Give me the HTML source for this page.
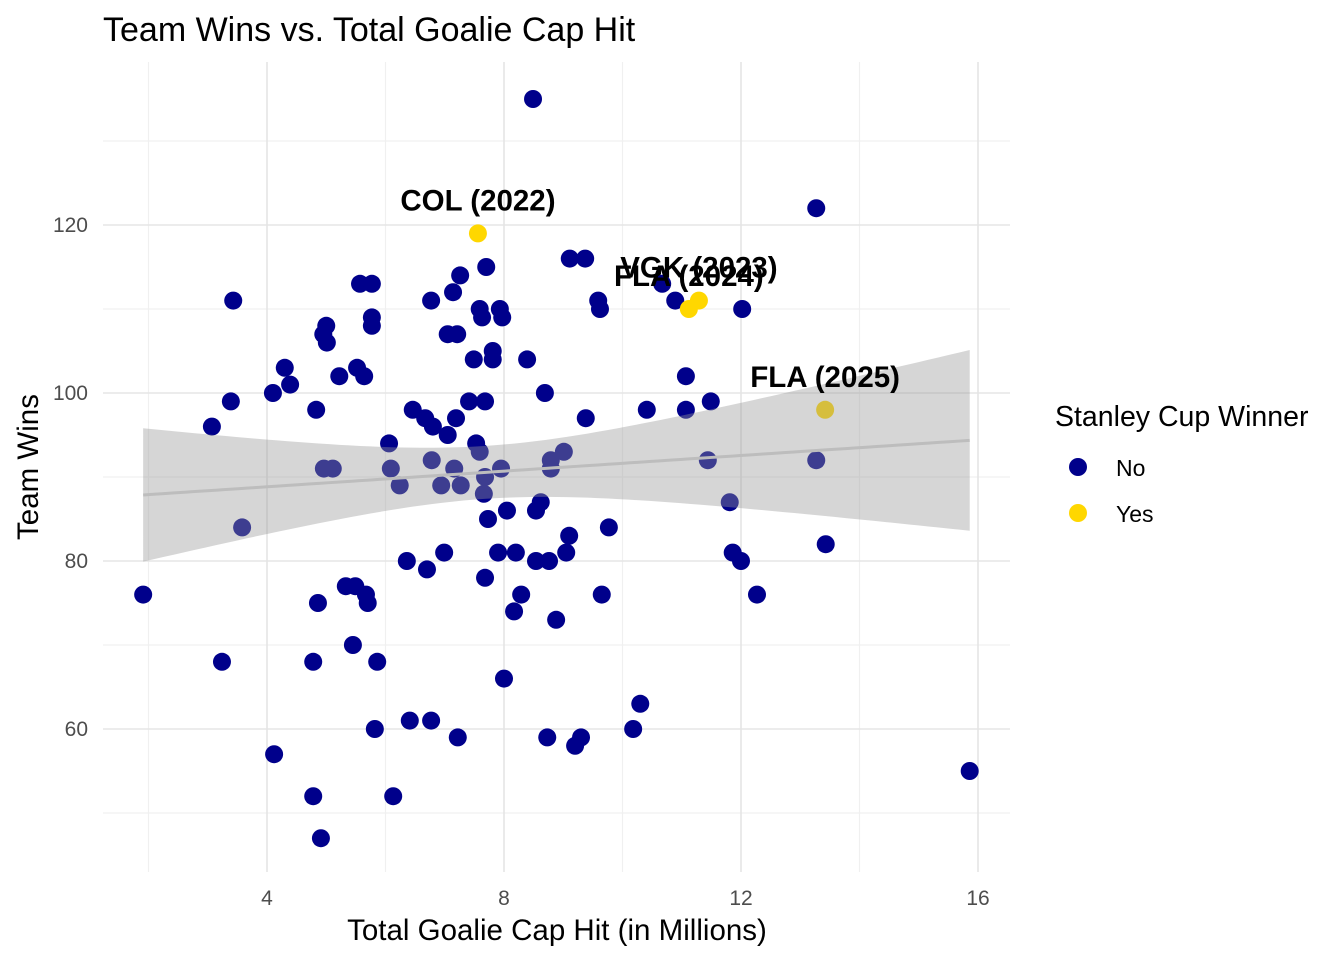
<!DOCTYPE html>
<html><head><meta charset="utf-8"><style>
html,body{margin:0;padding:0;background:#fff;}
svg{display:block;font-family:"Liberation Sans",Arial,sans-serif;}
</style></head><body>
<svg id="chart" width="1344" height="960" viewBox="0 0 1344 960">
<rect width="1344" height="960" fill="#fff"/>
<g id="grid"></g>
<g id="points"></g>
<g id="smooth"></g>
<g id="labels"></g>
<g id="ticks"></g>
<text x="103" y="41" font-size="34" fill="#000">Team Wins vs. Total Goalie Cap Hit</text>
<text x="557" y="940" font-size="29.5" text-anchor="middle" fill="#000">Total Goalie Cap Hit (in Millions)</text>
<text transform="translate(38,467) rotate(-90)" font-size="29.5" text-anchor="middle" fill="#000">Team Wins</text>
<g>
<text x="1055" y="426" font-size="28.5" fill="#000">Stanley Cup Winner</text>
<circle cx="1078" cy="467" r="9" fill="#00008B"/>
<text x="1116" y="476" font-size="23" fill="#000">No</text>
<circle cx="1078" cy="513" r="9" fill="#FFD700"/>
<text x="1116" y="522" font-size="23" fill="#000">Yes</text>
</g>
</svg>
<script>
const capHit=[1.91,8.49,13.27,7.56,3.43,9.11,9.37,7.70,7.26,5.57,5.77,6.77,7.14,7.59,7.93,7.97,7.63,9.59,9.62,10.89,10.67,12.02,11.12,11.29,5.77,5.77,5.0,4.95,5.01,7.05,7.21,7.81,7.81,7.49,8.39,4.30,4.39,4.10,3.39,3.07,5.22,5.52,5.64,4.83,6.46,6.67,6.80,7.05,7.19,7.41,7.68,8.69,9.38,10.41,11.07,11.49,11.07,13.42,13.27,11.44,11.81,13.43,11.86,12.0,12.27,6.06,6.09,6.24,6.78,7.16,6.94,7.27,7.53,7.59,7.68,7.66,7.73,7.95,8.05,9.01,8.79,8.79,8.62,8.54,9.10,9.05,8.54,8.76,9.77,3.58,4.96,5.11,6.99,6.36,6.70,7.90,8.20,5.33,5.49,5.67,5.70,4.86,8.29,8.17,8.88,9.65,3.24,4.78,5.45,5.86,8.0,6.41,6.77,7.22,5.82,8.73,9.20,9.30,10.18,10.30,4.12,4.78,6.13,4.91,15.86,7.68];
const wins=[76,135,122,119,111,116,116,115,114,113,113,111,112,110,110,109,109,111,110,111,113,110,110,111,109,108,108,107,106,107,107,105,104,104,104,103,101,100,99,96,102,103,102,98,98,97,96,95,97,99,99,100,97,98,98,99,102,98,92,92,87,82,81,80,76,94,91,89,92,91,89,89,94,93,90,88,85,91,86,93,92,91,87,86,83,81,80,80,84,84,91,91,81,80,79,81,81,77,77,76,75,75,76,74,73,76,68,68,70,68,66,61,61,59,60,59,58,59,60,63,57,52,52,47,55,78];
const winner=capHit.map(()=>"No");
winner[3]="Yes";winner[22]="Yes";winner[23]="Yes";winner[57]="Yes";
const labelText=["COL (2022)","VGK (2023)","FLA (2024)","FLA (2025)"];
const labelIdx=[3,23,22,57];
const xTicks=[4,8,12,16];
const yTicks=[60,80,100,120];

const NS="http://www.w3.org/2000/svg";
const px0=103,px1=1010,py0=62,py1=872;
const X=v=>267+(v-4)*59.25;
const Y=v=>393-(v-100)*8.4;
function mk(tag,attrs,parent){const e=document.createElementNS(NS,tag);for(const k in attrs)e.setAttribute(k,attrs[k]);parent.appendChild(e);return e;}
const grid=document.getElementById('grid');
[2,6,10,14].forEach(v=>{const l=mk('line',{x1:X(v),x2:X(v),y1:py0,y2:py1,stroke:'#f0f0f0','stroke-width':1.2},grid);

});
[50,70,90,110,130].forEach(v=>{const l=mk('line',{x1:px0,x2:px1,y1:Y(v),y2:Y(v),stroke:'#f0f0f0','stroke-width':1.2},grid);

});
const ticks=document.getElementById('ticks');
xTicks.forEach(v=>{const l=mk('line',{x1:X(v),x2:X(v),y1:py0,y2:py1,stroke:'#e5e5e5','stroke-width':1.6},grid);


const t=mk('text',{x:X(v),y:905,'font-size':21,fill:'#4d4d4d','text-anchor':'middle'},ticks);t.textContent=v;

});
yTicks.forEach(v=>{const l=mk('line',{x1:px0,x2:px1,y1:Y(v),y2:Y(v),stroke:'#e5e5e5','stroke-width':1.6},grid);


const t=mk('text',{x:88,y:Y(v)+7,'font-size':21,fill:'#4d4d4d','text-anchor':'end'},ticks);t.textContent=v;

});
const pts=document.getElementById('points');
capHit.forEach((v,i)=>{const c=mk('circle',{cx:X(v),cy:Y(wins[i]),r:9,fill:winner[i]==="Yes"?'#FFD700':'#00008B'},pts);

});
const n=capHit.length;const mx=capHit.reduce((a,b)=>a+b)/n,my=wins.reduce((a,b)=>a+b)/n;
let sxx=0,sxy=0;capHit.forEach((v,i)=>{sxx+=(v-mx)**2;sxy+=(v-mx)*(wins[i]-my);});
const b=sxy/sxx,a=my-b*mx;let sse=0;capHit.forEach((v,i)=>{sse+=(wins[i]-a-b*v)**2;});
const s=Math.sqrt(sse/(n-2)),tq=1.98;
const xmin=Math.min(...capHit),xmax=Math.max(...capHit);
const up=[],lo=[],mid=[];
for(let k=0;k<=80;k++){const x=xmin+(xmax-xmin)*k/80;const f=a+b*x;const h=tq*s*Math.sqrt(1/n+(x-mx)**2/sxx);
up.push(X(x)+','+Y(f+h));lo.unshift(X(x)+','+Y(f-h));mid.push(X(x)+','+Y(f));}
const sm=document.getElementById('smooth');
const rb=mk('polygon',{points:up.concat(lo).join(' '),fill:'#999999','fill-opacity':0.4},sm);


const ln=mk('polyline',{points:mid.join(' '),fill:'none',stroke:'#bdbdbd','stroke-width':3},sm);


const lab=document.getElementById('labels');
labelIdx.forEach((idx,j)=>{const t=mk('text',{x:X(capHit[idx]),y:Y(wins[idx])-23,'font-size':29.5,'font-weight':'bold',fill:'#000','text-anchor':'middle'},lab);t.textContent=labelText[j];

});
</script>
</body></html>
